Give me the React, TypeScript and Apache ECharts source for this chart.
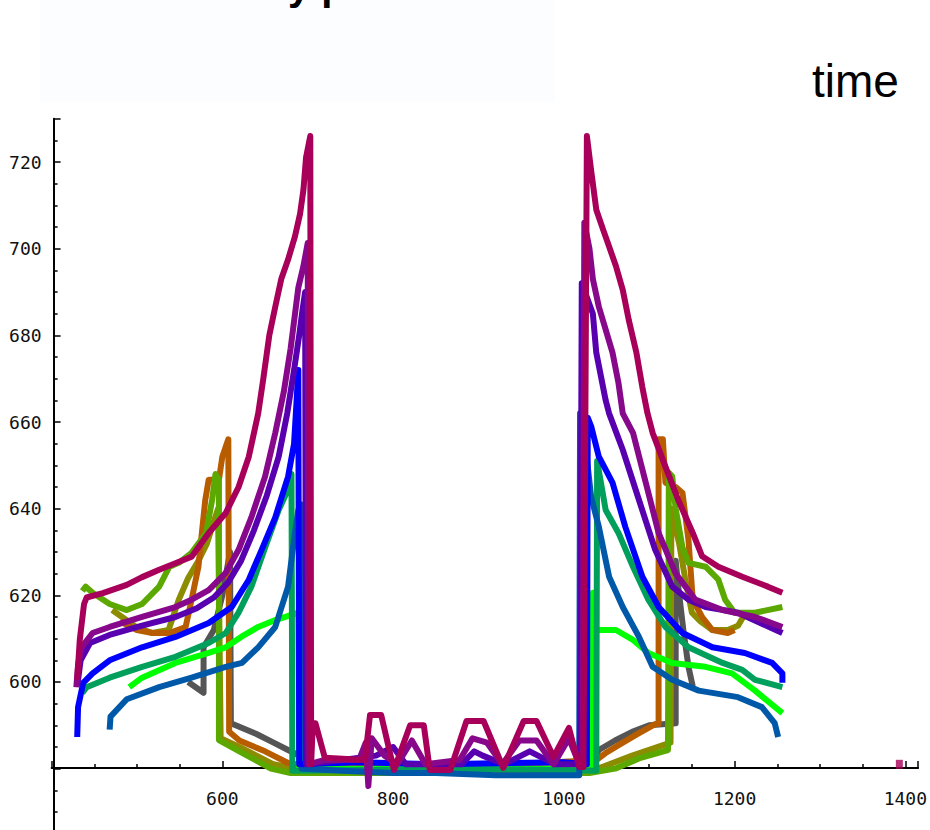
import React, { useEffect, useRef } from "react";
import * as echarts from "echarts";

// Axis tick settings (data units)
const xTicks = [600, 800, 1000, 1200, 1400];
const yTicks = [600, 620, 640, 660, 680, 700, 720];

// Series values: [time, value]
const crimson = [[430,600.5],[433,609.7],[438,618],[441,619.5],[460,620.5],[488,622.4],[506,624.2],[526,625.9],[564,628.9],[584,634.4],[604,639],[619,645],[631,652],[642,662],[648,670],[655,680],[662,686.6],[669,693],[677,697.5],[685,702.8],[691,708],[695,713.6],[698,721],[703,726],[704,581],[706,590.5],[709,590.5],[720,582.5],[767,582],[773,592.4],[786,592.4],[801,579.7],[820,590],[836,590],[843,579.7],[867,579.7],[886,591],[906,591],[929,580.2],[953,591],[968,591],[988,582.7],[1006,589.4],[1018,580.4],[1023,580.4],[1027,726],[1032,718],[1038,709],[1046,704.4],[1053,700.5],[1061,696],[1069,690.5],[1076,683.6],[1085,676],[1092,668],[1098,662],[1104,657.5],[1119,649.7],[1134,642],[1151,634.4],[1162,629],[1181,626.6],[1209,624.3],[1239,622],[1256,620.6]];
const crimsonDot = [[1393,581]];
const purple = [[429,598.8],[431,604],[435,608],[448,611.3],[468,612.7],[506,615],[545,617.3],[564,619],[584,621.2],[604,625.2],[619,630.5],[634,638],[650,647.4],[662,657.5],[672,667],[680,677],[689,691],[695,696],[700,701.3],[701,581],[720,582],[760,582],[768,586],[771,576],[775,587],[790,583],[805,581],[822,586.5],[838,581],[878,582],[893,587],[910,586],[928,581],[948,586.5],[968,586.5],[988,581],[1006,587],[1016,582],[1022,582],[1024,706],[1030,700],[1034,693],[1041,686.6],[1049,681.3],[1057,676],[1064,669],[1069,662],[1081,657.5],[1096,646],[1111,634.4],[1131,625],[1154,619],[1186,616.6],[1224,615],[1256,612.7]];
const indigo = [[430,599],[434,605],[445,609],[470,611],[506,613],[545,615],[570,617],[590,619.5],[607,623],[622,628],[637,635],[652,643],[666,652],[676,662],[684,672],[690,680],[694,686],[697,690],[698,581],[740,582],[780,583],[800,585],[815,581],[880,581],[895,584],[905,583],[930,581],[960,584],[990,581],[1019,581],[1021,692],[1034,685],[1038,676],[1049,665],[1053,662],[1069,653.6],[1088,642],[1107,630.5],[1127,622],[1146,619],[1166,617.3],[1204,616],[1256,611.3]];
const blue = [[430,587.3],[431,594.2],[437,599.8],[448,602],[468,605],[506,608],[545,610.4],[584,613.6],[611,617.3],[631,623.6],[646,630.5],[662,638],[677,647.4],[684,655],[687,665],[689,672],[690,581],[760,581.5],[850,581],[1000,581.5],[1027,581],[1028,661],[1032,659],[1041,652],[1057,646],[1072,635.8],[1092,624.3],[1111,617.3],[1139,611.3],[1174,608],[1212,606.7],[1244,604.4],[1256,602],[1256,599.8]];
const steelBlue = [[468,589],[469,592],[488,596],[526,598.8],[564,601],[604,603.5],[623,604.4],[642,608],[662,612.7],[677,622],[685,634.4],[689,639.7],[692,641],[693,580],[740,579.5],[800,579],[850,579],[920,578.5],[1000,578.5],[1018,578.5],[1019,662],[1025,655],[1032,642.7],[1041,635.8],[1053,624.3],[1069,617.3],[1088,610.4],[1104,603.5],[1127,600.5],[1158,598],[1204,596.5],[1232,594.2],[1247,590.5],[1251,587.3]];
const teal = [[436,597.5],[441,598.8],[468,601],[506,603.5],[545,605.8],[584,609],[604,611.3],[619,616],[634,622],[650,631],[666,639.7],[677,644.4],[681,648],[682,579.5],[900,580],[1038,579.5],[1039,651],[1049,639.7],[1064,634.4],[1081,626.6],[1099,619],[1119,612.7],[1146,608],[1186,604.4],[1209,602.8],[1224,600.5],[1256,598.8]];
const lime = [[491,598.8],[506,601],[545,604.4],[584,606.7],[604,608],[622,610.4],[642,612.7],[662,614.3],[681,615.5],[689,616],[690,580],[1033,580],[1034,620.6],[1035,612],[1061,612],[1081,609.7],[1099,606.7],[1127,604.4],[1166,603.5],[1197,602],[1224,598],[1256,592.8]];
const yellowGreen = [[436,621],[440,622],[448,620.6],[468,618],[488,616.6],[506,618],[526,622],[538,626.6],[549,627.5],[564,629.8],[581,634.4],[588,642],[592,648],[596,646.7],[596,586.6],[620,584],[657,580],[680,579],[720,579],[1030,579],[1060,580],[1090,582.5],[1122,584.3],[1123,648.3],[1127,647.4],[1131,640],[1139,631],[1146,627.5],[1166,626.6],[1181,623.6],[1189,619],[1200,616],[1224,616],[1256,617.3]];
const olive = [[471,616.6],[499,612.7],[518,611.3],[537,612],[549,619],[560,624],[572,628],[582,632],[590,637],[595,640],[598,587],[620,585],[660,581],[700,579.5],[1040,580],[1080,583],[1125,586],[1126,640],[1135,632],[1142,624],[1150,616],[1160,614],[1174,612],[1192,612],[1204,613],[1210,615]];
const orange = [[480,614],[500,612],[518,611.3],[538,611.3],[557,612.7],[564,619],[572,626.6],[576,634.4],[580,642],[584,646.7],[596,646.7],[600,652],[607,656],[608,588.5],[620,586.5],[650,584],[677,581.3],[700,580.5],[900,580.5],[1038,582],[1049,583.6],[1069,586],[1088,588.2],[1107,590.3],[1111,590.3],[1111,656],[1116,656],[1119,646],[1131,645],[1139,643.6],[1146,632.8],[1151,619],[1162,615],[1174,612],[1192,611.3],[1200,612]];
const gray = [[560,600],[578,597.5],[578,608],[590,612],[600,620],[609,630],[610,590.5],[640,588],[660,586],[677,584.3],[690,583],[700,580],[1030,580],[1041,584.3],[1060,586.5],[1080,588.5],[1100,590],[1131,590.5],[1131,628],[1134,622],[1140,612],[1146,603.5],[1151,599]];

const seriesList = [
  { name: "gray", data: gray, color: "#555555" },
  { name: "olive", data: olive, color: "#8c8c00" },
  { name: "orange", data: orange, color: "#b85c00" },
  { name: "yellowGreen", data: yellowGreen, color: "#5aa800" },
  { name: "lime", data: lime, color: "#00ff00" },
  { name: "teal", data: teal, color: "#00a05c" },
  { name: "steelBlue", data: steelBlue, color: "#0058a8" },
  { name: "blue", data: blue, color: "#0000ff" },
  { name: "indigo", data: indigo, color: "#5800b0" },
  { name: "purple", data: purple, color: "#88088c" },
  { name: "crimson", data: crimson, color: "#a8005a" },
];

export default function App() {
  const ref = useRef<HTMLDivElement>(null);
  useEffect(() => {
    if (!ref.current) return;
    const chart = echarts.init(ref.current, null, { renderer: "svg" });
    const labelFont = { fontFamily: "DejaVu Sans Mono", fontSize: 18, color: "#111" };
    chart.setOption({
      animation: false,
      backgroundColor: "#ffffff",
      grid: { left: 51.6, right: 5.5, top: 118.7, bottom: 14.7, containLabel: false },
      xAxis: {
        type: "value",
        min: 400,
        max: 1415,
        interval: 200,
        offset: -87.3,
        axisLine: { show: true, onZero: false, lineStyle: { color: "#000", width: 2 } },
        axisTick: { show: true, inside: true, length: 7, lineStyle: { color: "#000", width: 1.5 } },
        minorTick: { show: true, splitNumber: 4, length: 4, lineStyle: { color: "#000", width: 1.5 } },
        axisLabel: {
          ...labelFont,
          margin: 21,
          formatter: (v: number) => (xTicks.includes(v) ? String(v) : ""),
        },
        splitLine: { show: false },
      },
      yAxis: {
        type: "value",
        min: 560,
        max: 730,
        interval: 20,
        offset: -2,
        axisLine: { show: true, onZero: false, lineStyle: { color: "#000", width: 2 } },
        axisTick: { show: true, inside: true, length: 7, lineStyle: { color: "#000", width: 1.5 } },
        minorTick: { show: true, splitNumber: 4, length: 4, lineStyle: { color: "#000", width: 1.5 } },
        axisLabel: {
          ...labelFont,
          margin: 12,
          formatter: (v: number) => (yTicks.includes(v) ? String(v) : ""),
        },
        splitLine: { show: false },
      },
      graphic: [
        {
          type: "rect",
          shape: { x: 40, y: 0, width: 515, height: 102 },
          style: { fill: "rgba(222,238,250,0.1)" },
          silent: true,
        },
        {
          type: "text",
          x: 159,
          y: -14,
          style: {
            text: "Velocity profile",
            font: 'bold 40px "Liberation Sans"',
            fill: "#000",
            verticalAlign: "middle",
          },
        },
        {
          type: "text",
          x: 812,
          y: 81,
          style: {
            text: "time",
            font: '46px "Liberation Sans"',
            fill: "#000",
            verticalAlign: "middle",
          },
        },
      ],
      series: [
        ...seriesList.map((s) => ({
          name: s.name,
          type: "line",
          data: s.data,
          showSymbol: false,
          symbol: "none",
          lineStyle: { color: s.color, width: 6, join: "round" },
          itemStyle: { color: s.color },
          silent: true,
        })),
        {
          name: "crimsonDot",
          type: "scatter",
          data: crimsonDot,
          symbol: "rect",
          symbolSize: [7, 9],
          itemStyle: { color: "#a8005a" },
          silent: true,
        },
      ],
    });
    return () => chart.dispose();
  }, []);
  return (
    <div
      ref={ref}
      style={{ position: "fixed", left: 0, top: 0, width: 930, height: 870, background: "#fff" }}
    />
  );
}
